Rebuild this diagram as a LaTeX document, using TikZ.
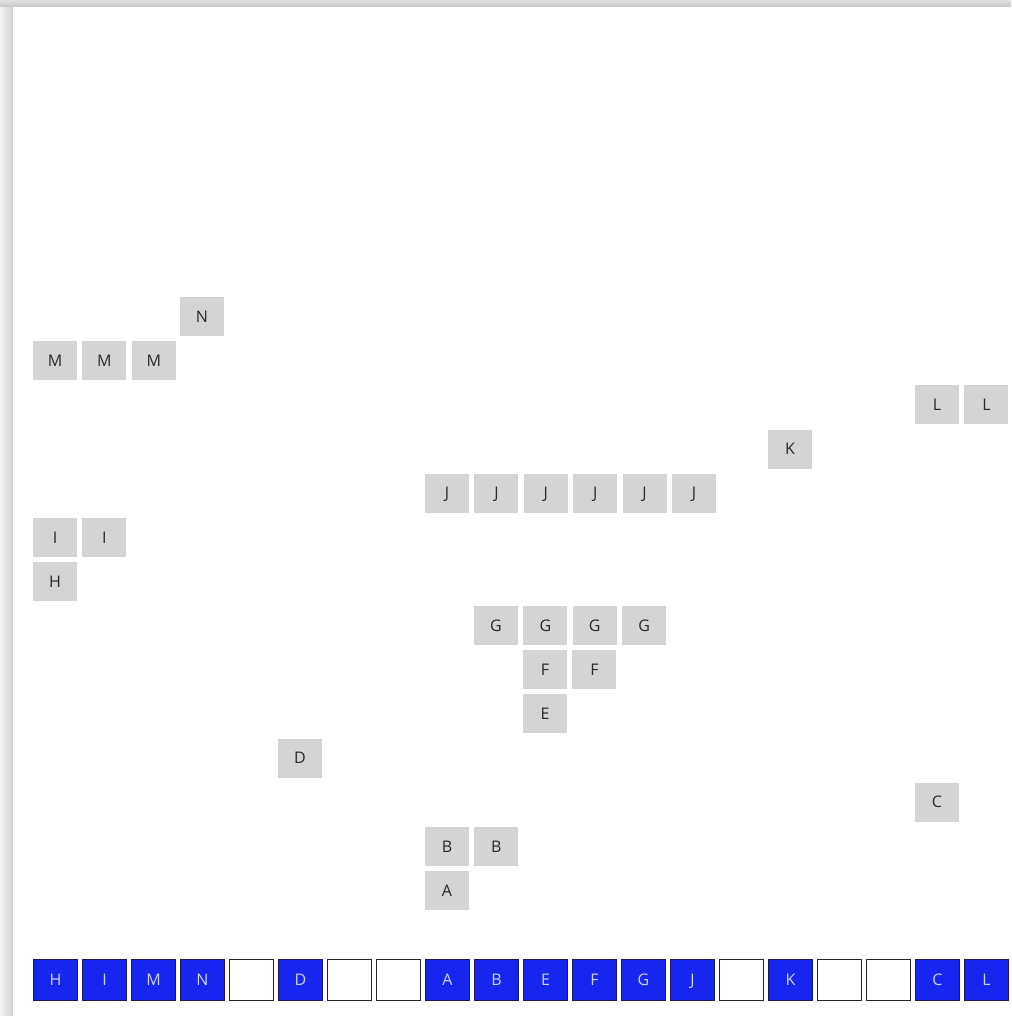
\documentclass[tikz,border=0pt]{standalone}
\usepackage{fontspec}
\setmainfont{Open Sans}
\usepackage{xcolor}
\usepackage{tikz}
\usetikzlibrary{positioning}

\definecolor{boxgray}{RGB}{212,212,212}
\definecolor{textgray}{RGB}{40,40,40}
\definecolor{slotblue}{RGB}{22,38,238}
\definecolor{slotedge}{RGB}{25,25,95}
\definecolor{slottext}{RGB}{205,212,255}

\begin{document}
\begin{tikzpicture}[
        x=1pt, y=-1pt,
        node distance=5pt and 5pt,
        piece/.style={rectangle, fill=boxgray, text=textgray, minimum width=44pt, minimum height=39pt, inner sep=0pt, text height=11.5pt, text depth=0pt, font=\fontsize{16}{16}\selectfont},
        slot/.style={rectangle, draw=slotedge, line width=1pt, fill=slotblue, text=slottext, minimum width=44pt, minimum height=41pt, inner sep=0pt, text height=11.5pt, text depth=0pt, font=\fontsize{16}{16}\selectfont},
        free/.style={slot, draw=black!85, line width=1.4pt, minimum width=43.6pt, minimum height=40.6pt, fill=white}
    ]
        \useasboundingbox (0,0) rectangle (1011,1016);

        % Frame with shadow
        \shade[left color=black!5, right color=black!18] (0,0) rectangle (13,1016);
        \shade[top color=black!12, bottom color=black!22] (0,0) rectangle (1011,7);
        \fill[white] (13,7) rectangle (1011,1016);

        % Stacked pieces
        \node[piece] (n1) at (202,316.5) {N};

        \node[piece] (m1) at (55,360.6) {M};
        \node[piece, right=of m1] (m2) {M};
        \node[piece, right=of m2] (m3) {M};

        \node[piece] (l1) at (937,404.8) {L};
        \node[piece, right=of l1] (l2) {L};

        \node[piece] (k1) at (790,449) {K};

        \node[piece] (j1) at (447,493.1) {J};
        \node[piece, right=of j1] (j2) {J};
        \node[piece, right=of j2] (j3) {J};
        \node[piece, right=of j3] (j4) {J};
        \node[piece, right=of j4] (j5) {J};
        \node[piece, right=of j5] (j6) {J};

        \node[piece] (i1) at (55,537.3) {I};
        \node[piece, right=of i1] (i2) {I};

        \node[piece] (h1) at (55,581.4) {H};

        \node[piece] (g1) at (496,625.6) {G};
        \node[piece, right=of g1] (g2) {G};
        \node[piece, right=of g2] (g3) {G};
        \node[piece, right=of g3] (g4) {G};

        \node[piece] (f1) at (545,669.7) {F};
        \node[piece, right=of f1] (f2) {F};

        \node[piece] (e1) at (545,713.9) {E};

        \node[piece] (d1) at (300,758) {D};

        \node[piece] (c1) at (937,802.2) {C};

        \node[piece] (b1) at (447,846.3) {B};
        \node[piece, right=of b1] (b2) {B};

        \node[piece] (a1) at (447,890.5) {A};

        % Bottom row of slots
        \node[slot] (s1) at (55.5,980) {H};
        \node[slot, right=4pt of s1] (s2) {I};
        \node[slot, right=4pt of s2] (s3) {M};
        \node[slot, right=4pt of s3] (s4) {N};
        \node[free, right=4pt of s4] (s5) {};
        \node[slot, right=4pt of s5] (s6) {D};
        \node[free, right=4pt of s6] (s7) {};
        \node[free, right=4pt of s7] (s8) {};
        \node[slot, right=4pt of s8] (s9) {A};
        \node[slot, right=4pt of s9] (s10) {B};
        \node[slot, right=4pt of s10] (s11) {E};
        \node[slot, right=4pt of s11] (s12) {F};
        \node[slot, right=4pt of s12] (s13) {G};
        \node[slot, right=4pt of s13] (s14) {J};
        \node[free, right=4pt of s14] (s15) {};
        \node[slot, right=4pt of s15] (s16) {K};
        \node[free, right=4pt of s16] (s17) {};
        \node[free, right=4pt of s17] (s18) {};
        \node[slot, right=4pt of s18] (s19) {C};
        \node[slot, right=4pt of s19] (s20) {L};
    \end{tikzpicture}
\end{document}
